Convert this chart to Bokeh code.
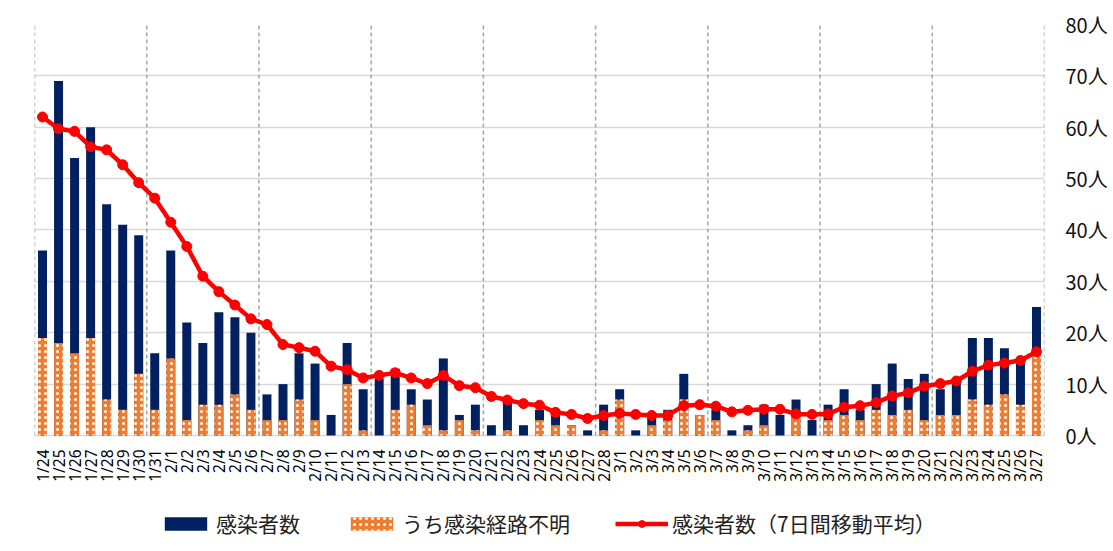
import math
from bokeh.plotting import figure
from bokeh.models import (FactorRange, Range1d, FixedTicker, Legend, LegendItem,
                          ColumnDataSource, PrintfTickFormatter)
from bokeh.core.properties import value
from bokeh.embed import file_html
from bokeh.resources import INLINE

dates = (["1/%d" % d for d in range(24, 32)] +
         ["2/%d" % d for d in range(1, 29)] +
         ["3/%d" % d for d in range(1, 28)])

total = [36, 69, 54, 60, 45, 41, 39, 16,
         36, 22, 18, 24, 23, 20, 8, 10, 16, 14, 4, 18, 9, 11, 13, 9, 7, 15, 4, 6,
         2, 7, 2, 5, 4, 2, 1, 6,
         9, 1, 4, 5, 12, 4, 5, 1, 2, 6, 4, 7, 3, 6, 9, 5, 10, 14, 11, 12, 9, 10,
         19, 19, 17, 14, 25]

unknown = [19, 18, 16, 19, 7, 5, 12, 5,
           15, 3, 6, 6, 8, 5, 3, 3, 7, 3, 0, 10, 1, 0, 5, 6, 2, 1, 3, 1,
           0, 1, 0, 3, 2, 2, 0, 1,
           7, 0, 2, 3, 7, 4, 3, 0, 1, 2, 0, 4, 0, 3, 4, 3, 5, 4, 5, 3, 4, 4,
           7, 6, 8, 6, 16]

avg7 = [62.0, 59.7, 59.2, 56.2, 55.6, 52.7, 49.2, 46.2,
        41.5, 36.8, 31.0, 28.0, 25.4, 22.7, 21.6, 17.7, 17.1, 16.4, 13.5, 12.8,
        11.2, 11.7, 12.2, 11.2, 10.1, 11.7, 9.7, 9.3,
        7.6, 6.9, 6.2, 5.9, 4.5, 4.1, 3.3, 3.9,
        4.3, 4.1, 3.9, 3.9, 5.8, 6.0, 5.7, 4.6, 4.9, 5.1, 5.1, 4.2, 4.1, 4.2,
        5.5, 5.8, 6.4, 7.7, 8.3, 9.6, 10.1, 10.6, 12.5, 13.7, 14.1, 14.6, 16.3]

y_ticks = [0, 10, 20, 30, 40, 50, 60, 70, 80]
week_lines = list(range(0, 64, 7))

src = ColumnDataSource(dict(date=dates, total=total, unknown=unknown, avg=avg7))

# frame extends below zero so the date labels and legend live inside it
p = figure(x_range=FactorRange(*dates), y_range=Range1d(-20.83, 80),
           frame_width=1010, frame_height=518,
           min_border_left=34, min_border_top=24, min_border_right=62,
           min_border_bottom=0,
           x_axis_location=None, y_axis_location="right",
           output_backend="svg", toolbar_location=None,
           outline_line_color=None, background_fill_color="white")

# y axis on the right
p.yaxis.ticker = FixedTicker(ticks=y_ticks)
p.yaxis.formatter = PrintfTickFormatter(format="%d人")
p.yaxis.axis_line_color = None
p.yaxis.major_tick_line_color = None
p.yaxis.minor_tick_line_color = None
p.yaxis.major_label_standoff = 15
p.yaxis.major_label_text_font = "Noto Sans CJK JP"
p.yaxis.major_label_text_font_size = "20px"
p.yaxis.major_label_text_color = "#111111"

p.xgrid.visible = False
p.ygrid.ticker = FixedTicker(ticks=y_ticks)
p.ygrid.grid_line_color = "#d9d9d9"
p.ygrid.grid_line_width = 1.5

# weekly dashed separators
p.segment(x0=week_lines, y0=0, x1=week_lines, y1=80, line_color="#a6a6a6",
          line_dash="4 3", line_width=1.5)

# date labels (vertical, hanging below the zero line)
p.text(x="date", y=0, text="date", source=src, angle=math.pi / 2,
       y_offset=14, text_align="right", text_baseline="middle",
       text_font=value("Noto Sans"), text_font_size=value("15.5px"),
       text_color="#000000")

navy = p.vbar(x="date", top="total", width=0.56, fill_color="#002060",
              line_color=None, source=src)
orange = p.vbar(x="date", top="unknown", width=0.56, fill_color="#ED7D31",
                line_color=None, hatch_pattern="dot", hatch_color="white",
                hatch_scale=6, hatch_weight=1.5, source=src)
ln = p.line(x="date", y="avg", line_color="#FF0000", line_width=4.5, source=src)
mk = p.scatter(x="date", y="avg", size=10, fill_color="#FF0000",
               line_color="#FF0000", source=src)

legend = Legend(items=[LegendItem(label="感染者数", renderers=[navy]),
                       LegendItem(label="うち感染経路不明", renderers=[orange]),
                       LegendItem(label="感染者数（7日間移動平均）", renderers=[ln, mk])],
                orientation="horizontal", location=(125, 4),
                glyph_width=53, glyph_height=17,
                label_text_font_size="21px", label_text_font="Noto Sans CJK JP",
                label_text_color="#222222",
                spacing=45, label_standoff=4, padding=5, margin=0,
                border_line_color=None, background_fill_alpha=0)
p.add_layout(legend)

open("out.html", "w").write(file_html(p, INLINE))
